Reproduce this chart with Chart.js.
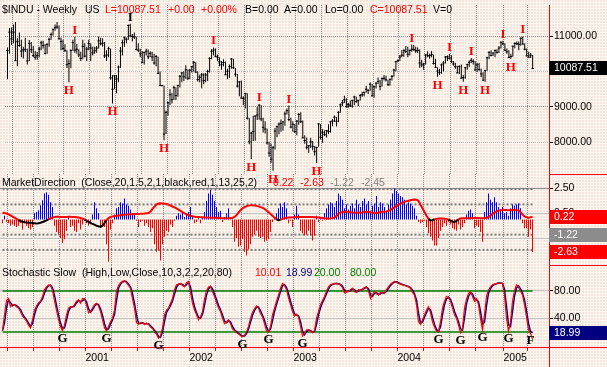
<!DOCTYPE html>
<html>
<head>
<meta charset="utf-8">
<title>$INDU Weekly</title>
<script src="https://cdn.jsdelivr.net/npm/chart.js@4.4.1/dist/chart.umd.min.js"></script>
<style>
  html, body { margin: 0; padding: 0; }
  body {
    width: 607px; height: 367px; overflow: hidden; position: relative;
    background-color: #fcf7ef;
    background-image: radial-gradient(circle at 1px 1px, #eccdc5 0.6px, transparent 0.8px);
    background-size: 3px 3px;
  }
  canvas { position: absolute; left: 0; }
</style>
</head>
<body>
<canvas id="priceChart" width="607" height="186" style="top:0"></canvas>
<canvas id="mdChart" width="607" height="91" style="top:174px"></canvas>
<canvas id="stochChart" width="607" height="102" style="top:265px"></canvas>
<script>
// weekly bars, Mar 2000 - Apr 2005 (one value per week)
const closeVals = [
  10595,11112,10922,11111,10306,10844,10734,10577,10609,10627,
  10300,10794,10615,10449,10405,10448,10636,10812,10733,10511,
  10767,10908,11046,11193,11238,11259,10927,10847,10651,10596,
  10192,10226,10590,10817,10603,10630,10470,10373,10712,10434,
  10635,10787,
  10662,10525,10587,10659,10864,10781,10799,10441,10466,10644,
  9823,9504,9879,9791,10126,10579,10810,10951,10910,11301,
  11005,10990,10977,10623,10604,10502,10253,10539,10577,10416,
  10512,10416,10240,10423,9949,9606,9606,8236,8848,9120,
  9345,9205,9545,9323,9608,9867,9960,9852,10049,9811,
  10036,10137,
  10259,9987,9772,9840,9907,9744,9903,10000,10368,10572,
  10608,10427,10404,10271,10190,10257,9910,10006,10140,10353,
  10105,9925,9589,9706,9253,9243,9380,8684,8019,8264,
  8313,8745,8778,9053,8664,8427,8379,7986,7701,7528,
  7850,8322,8443,8517,8537,8579,8804,8896,8645,8433,
  8512,8304,
  8601,8785,8587,8131,8054,7864,7909,8018,7891,7740,
  7859,8522,8145,8278,8221,8337,8306,8582,8604,8713,
  8601,8850,9062,9118,9201,9011,9070,9036,9189,9284,
  9153,9191,9321,9348,9416,9503,9471,9644,9313,9572,
  9674,9721,9582,9801,9809,9768,9629,9782,9862,10042,
  10278,10305,
  10409,10458,10600,10568,10488,10593,10628,10619,10584,10596,
  10240,10186,10213,10470,10443,10452,10473,10226,10118,10013,
  9967,10188,10242,10410,10417,10371,10283,10214,10140,9962,
  10140,9815,9826,10110,10195,10260,10314,10284,10047,10192,
  10055,9933,9757,10027,10387,10539,10456,10522,10592,10543,
  10661,10828,10783,
  10603,10558,10393,10427,10716,10796,10785,10766,10940,10774,
  10629,10442,10404,10461,10087.51
];
const highVals = [
  10680,11230,11240,11330,11400,10940,11100,10900,10700,10950,
  10640,10890,10830,10720,10580,10550,10700,10870,10870,10780,
  10800,10950,11100,11200,11330,11400,11300,10950,10900,10770,
  10600,10350,10630,10900,10980,10780,10630,10560,10900,10800,
  10700,10900,
  10800,10700,10700,10720,10990,10950,10940,10830,10600,10700,
  10650,9900,9900,9900,10170,10690,10900,10990,10960,11330,
  11350,11060,11100,10980,10800,10640,10580,10560,10640,10620,
  10570,10560,10500,10470,10420,10000,9620,9600,8900,9150,
  9500,9400,9600,9560,9620,9900,9990,10010,10180,10060,
  10080,10150,
  10300,10260,10000,9910,9960,9950,9960,10050,10400,10630,
  10680,10650,10480,10400,10300,10350,10280,10080,10200,10380,
  10360,10100,9930,9730,9750,9300,9400,9390,8700,8300,
  8750,8760,9000,9080,9050,8700,8600,8390,8020,7960,
  7900,8410,8480,8560,8650,8600,8870,8960,9040,8700,
  8600,8520,
  8630,8830,8850,8620,8200,8140,7930,8130,8040,7900,
  7880,8540,8520,8380,8340,8350,8510,8600,8660,8760,
  8720,8880,9100,9200,9320,9250,9110,9180,9200,9320,
  9290,9200,9370,9430,9420,9600,9500,9690,9650,9600,
  9690,9830,9760,9830,9900,9880,9760,9800,9900,10080,
  10300,10340,
  10470,10600,10620,10720,10700,10620,10760,10750,10700,10680,
  10620,10330,10250,10490,10570,10500,10580,10480,10360,10120,
  10080,10230,10300,10440,10450,10500,10460,10300,10250,10160,
  10180,10200,9900,10130,10220,10320,10380,10350,10290,10250,
  10240,10080,9980,10050,10420,10570,10600,10540,10620,10630,
  10720,10850,10870,
  10800,10650,10600,10500,10730,10820,10850,10850,10960,10990,
  10800,10650,10560,10520,10470
];
const lowVals = [
  9780,10500,10750,10800,10300,10150,10700,10400,10370,10550,
  10200,10300,10520,10400,10330,10330,10400,10600,10650,10480,
  10500,10700,10900,11020,11150,11200,10900,10600,10600,10550,
  10100,9700,10090,10590,10530,10500,10400,10300,10350,10400,
  10300,10600,
  10300,10450,10500,10530,10650,10740,10700,10380,10300,10400,
  9770,9100,9500,9390,9700,10100,10450,10700,10800,10900,
  10980,10850,10920,10600,10550,10400,10240,10200,10450,10350,
  10400,10300,10200,10150,9930,9590,9580,8060,8240,8750,
  9050,9100,9200,9200,9290,9550,9700,9730,9800,9760,
  9780,9970,
  10000,9960,9720,9700,9530,9640,9700,9730,9970,10350,
  10450,10400,10300,10150,10050,10150,9900,9780,9820,10080,
  10080,9850,9550,9300,9230,9050,8960,8650,7950,7530,
  8040,8050,8630,8640,8600,8280,8250,7940,7600,7420,
  7200,7800,8150,8230,8300,8340,8470,8790,8600,8400,
  8300,8270,
  8200,8500,8550,8120,7960,7800,7710,7840,7780,7630,
  7420,7880,8080,7990,8180,8140,8230,8280,8460,8580,
  8450,8570,8840,9020,9110,8980,8980,9000,8980,9050,
  9120,9030,9180,9290,9300,9400,9370,9460,9300,9270,
  9520,9650,9470,9580,9750,9720,9590,9600,9750,9850,
  10000,10260,
  10300,10400,10420,10520,10400,10450,10560,10580,10520,10520,
  10110,10120,10050,10200,10400,10360,10400,10200,10100,9850,
  9900,9940,10000,10230,10300,10340,10240,10160,10080,9950,
  9930,9800,9710,9800,10050,10130,10240,10200,10020,9990,
  10020,9840,9740,9710,10020,10350,10430,10440,10400,10500,
  10520,10650,10750,
  10580,10500,10380,10360,10420,10660,10750,10600,10730,10760,
  10600,10430,10400,10380,10070
];

// MarketDirection histogram and its line
const histVals = [
  -0.3,0.3,-0.2,-0.3,-0.5,-0.4,-0.5,-0.6,-0.5,-0.3,
  -0.8,-0.3,-0.5,-0.7,-0.8,-0.6,0.5,0.6,0.75,1.15,
  1.55,2.1,2.2,2.0,1.4,1.0,-0.5,-1.0,-1.2,-1.5,
  -1.9,-1.6,-0.9,0.2,-0.6,-0.5,-0.9,-1.0,-0.3,-0.8,
  -0.4,-0.1,-0.3,-0.5,-0.2,0.4,1.4,0.9,0.5,-0.6,
  -0.4,-0.6,-2.0,-3.4,-0.8,-0.3,0.4,0.9,1.0,1.4,
  1.3,1.7,1.2,1.1,0.8,0.5,0.4,-0.1,-0.6,-0.2,
  -0.1,-0.5,-0.3,-0.6,-1.0,-0.7,-2.0,-2.6,-2.5,-3.3,
  -2.0,-1.4,-0.9,-1.0,-0.4,-0.6,-0.1,0.3,0.5,0.4,
  0.6,0.2,0.5,0.6,1.0,0.3,-0.3,-0.2,0.1,-0.3,
  0.2,0.6,1.5,2.1,2.4,2.0,1.5,1.0,0.6,0.7,
  -0.2,0.2,0.5,0.9,0.2,-0.6,-1.8,-1.5,-2.2,-2.1,
  -1.6,-2.6,-2.9,-2.4,-2.0,-1.4,-1.2,-0.9,-1.4,-1.5,
  -1.4,-1.8,-1.7,-1.6,-1.0,-0.2,0.2,0.5,0.9,1.3,
  1.0,1.4,0.9,-0.3,-0.1,-0.6,0.4,1.1,0.4,-0.9,
  -1.1,-1.3,-1.2,-0.9,-1.3,-1.7,-1.3,0.3,-0.2,0.1,
  -0.1,0.5,0.9,1.2,1.4,1.3,1.0,1.5,2.1,1.9,
  1.6,0.9,1.2,0.8,1.1,1.3,0.9,1.6,1.2,1.0,
  1.5,1.7,1.2,1.5,0.7,1.1,1.3,1.9,1.0,1.4,
  1.3,1.0,0.6,1.2,1.6,2.1,2.5,2.3,2.1,1.9,
  1.8,1.6,1.2,1.4,1.3,1.1,0.9,0.3,-0.2,-0.3,
  -0.2,-0.1,-0.6,-1.1,-1.4,-1.7,-2.1,-2.1,-1.5,-0.9,
  -0.6,-0.3,-0.5,-0.2,-0.4,-0.7,-0.8,-0.9,-0.4,-0.8,
  -0.6,-0.3,0.4,0.7,0.8,0.5,-0.7,-0.5,-0.6,-1.0,
  -1.8,0.6,1.4,2.1,1.6,1.4,1.8,1.4,1.0,0.8,
  1.0,0.5,0.6,0.3,0.9,1.2,1.1,1.2,1.3,0.9,
  -0.3,-0.7,-0.7,-1.4,-0.8,-2.63
];
const signalVals = [
  0.55,0.52,0.48,0.42,0.33,0.24,0.15,0.06,-0.04,-0.12,
  -0.18,-0.22,-0.24,-0.26,-0.27,-0.28,-0.30,-0.32,-0.30,-0.26,
  -0.20,-0.14,-0.07,0.02,0.10,0.16,0.20,0.22,0.22,0.21,
  0.20,0.20,0.21,0.22,0.22,0.21,0.20,0.18,0.16,0.12,
  0.07,0.00,-0.10,-0.20,-0.28,-0.35,-0.42,-0.50,-0.55,-0.60,
  -0.50,-0.30,-0.05,0.12,0.20,0.25,0.28,0.30,0.32,0.34,
  0.36,0.38,0.40,0.41,0.42,0.43,0.44,0.44,0.45,0.46,
  0.47,0.48,0.50,0.52,0.65,0.85,1.05,1.20,1.30,1.32,
  1.30,1.28,1.25,1.20,1.12,1.05,0.98,0.90,0.80,0.70,
  0.60,0.50,0.42,0.35,0.30,0.26,0.23,0.21,0.20,0.19,
  0.18,0.17,0.17,0.16,0.15,0.15,0.14,0.13,0.12,0.12,
  0.11,0.10,0.10,0.10,0.10,0.12,0.20,0.35,0.55,0.75,
  0.90,1.00,1.08,1.12,1.15,1.15,1.13,1.10,1.06,1.00,
  0.95,0.85,0.72,0.60,0.45,0.30,0.15,0.02,-0.05,-0.03,
  0.05,0.10,0.14,0.16,0.17,0.18,0.18,0.20,0.20,0.20,
  0.20,0.20,0.20,0.20,0.20,0.20,0.19,0.18,0.16,0.14,
  0.12,0.10,0.09,0.09,0.10,0.12,0.15,0.30,0.45,0.55,
  0.60,0.62,0.62,0.60,0.58,0.56,0.55,0.55,0.56,0.57,
  0.58,0.60,0.60,0.60,0.58,0.55,0.52,0.50,0.55,0.60,
  0.62,0.62,0.65,0.70,0.78,0.88,1.00,1.10,1.20,1.28,
  1.35,1.42,1.48,1.52,1.56,1.60,1.62,1.60,1.50,1.20,
  0.90,0.60,0.30,0.05,-0.08,-0.05,0.02,0.05,0.08,0.08,
  0.08,0.07,0.05,0.00,-0.10,-0.18,-0.20,-0.12,0.02,0.08,
  0.10,0.10,0.10,0.11,0.11,0.12,0.12,0.12,0.12,0.11,
  0.11,0.12,0.12,0.20,0.32,0.45,0.56,0.65,0.72,0.75,
  0.75,0.76,0.76,0.75,0.75,0.76,0.76,0.75,0.75,0.60,
  0.40,0.25,0.18,0.15,0.18,0.22
];
const bandLevels = [2.45, 1.22, -1.22, -2.45];

// Stochastic Slow %K (red) and %D (navy)
const stochK = [
  22,45,66,69,57,60,60,57,55,50,
  43,40,36,30,26,38,52,58,63,65,
  72,82,86,89,88,81,66,52,38,28,
  22,30,45,55,57,56,60,65,67,62,
  69,68,60,48,50,55,60,62,58,50,
  38,26,21,28,35,40,52,80,88,92,
  94,95,92,88,84,68,55,34,31,34,
  33,31,33,31,27,25,20,17,11,14,
  26,45,52,55,62,69,82,89,90,91,
  88,86,92,94,78,62,52,45,38,42,
  50,68,80,86,87,79,72,63,55,50,
  40,32,35,38,32,24,22,19,17,15,
  13,15,20,28,40,49,54,58,55,47,
  42,32,22,20,28,45,55,65,74,84,
  91,88,82,70,60,50,43,46,42,28,
  14,18,23,23,21,19,22,40,50,60,
  66,72,80,86,89,90,91,91,90,89,
  85,77,80,79,82,84,79,78,82,81,
  83,85,86,80,69,75,79,76,74,78,
  77,77,82,86,90,92,94,93,91,90,
  89,88,87,86,84,78,74,60,35,31,
  38,45,52,57,48,35,27,21,20,35,
  55,65,72,70,65,55,45,40,30,19,
  26,55,68,76,79,72,65,69,60,40,
  23,45,72,81,86,89,90,91,92,91,
  91,74,40,21,35,65,80,89,86,80,
  74,60,42,23,18,10.01
];
const stochD = [
  22,33.5,55.5,67.5,63,58.5,60,58.5,56,52.5,
  46.5,41.5,38,33,28,32,45,55,60.5,64,
  68.5,77,84,87.5,88.5,84.5,73.5,59,45,33,
  25,26,37.5,50,56,56.5,58,62.5,66,64.5,
  65.5,68.5,64,54,49,52.5,57.5,61,60,54,
  44,32,23.5,24.5,31.5,37.5,46,66,84,90,
  93,94.5,93.5,90,86,76,61.5,44.5,32.5,32.5,
  33.5,32,32,32,29,26,22.5,18.5,14,12.5,
  20,35.5,48.5,53.5,58.5,65.5,75.5,85.5,89.5,90.5,
  89.5,87,89,93,86,70,57,48.5,41.5,40,
  46,59,74,83,86.5,83,75.5,67.5,59,52.5,
  45,36,33.5,36.5,35,28,23,20.5,18,16,
  14,14,17.5,24,34,44.5,51.5,56,56.5,51,
  44.5,37,27,21,24,36.5,50,60,69.5,79,
  87.5,89.5,85,76,65,55,46.5,44.5,44,35,
  21,16,20.5,23,22,20,20.5,31,45,55,
  63,69,76,83,87.5,89.5,90.5,91,90.5,89.5,
  87,81,78.5,79.5,80.5,83,81.5,78.5,80,81.5,
  82,84,85.5,83,74.5,72,77,77.5,75,76,
  77.5,77,79.5,84,88,91,93,93.5,92,90.5,
  89.5,88.5,87.5,86.5,85,81,76,67,47.5,33,
  34.5,41.5,48.5,54.5,52.5,41.5,31,24,20.5,27.5,
  45,60,68.5,71,67.5,60,50,42.5,35,24.5,
  22.5,40.5,61.5,72,77.5,75.5,68.5,67,64.5,50,
  31.5,34,58.5,76.5,83.5,87.5,89.5,90.5,91.5,91.5,
  91,82.5,57,30.5,28,50,72.5,84.5,87.5,83,
  77,67,51,32.5,20.5,18.99
];
const stochLevels = [20, 80];

// axis ticks: first week of each quarter, year labels on January
const quarterStarts = [3, 16, 29, 42, 55, 68, 81, 94, 107, 120, 133, 146, 159, 172, 185, 198, 211, 224, 237, 251, 263];
const yearStarts = [42, 94, 146, 198, 251];
const yearNames = ['2001', '2002', '2003', '2004', '2005'];
const priceTicks = [8000, 9000, 10000, 11000];
const mdTicks = [-1.5, 0.5, 2.5];
const stochTicks = [40, 80];

// hand-drawn marks (week indices)
const peakMarks = [34, 62, 104, 127, 142, 204, 223, 234, 250, 260];
const blackPeak = 62;
const troughMarks = [31, 53, 79, 123, 134, 156, 217, 230, 241, 254];
const stochMarks = [30, 52, 78, 120, 133, 150, 218, 229, 240, 253];
const stochEndMark = 264;

const RED = '#ff0000', BLUE = '#0000ff', NAVY = '#000080', GREEN = '#008000', GRAY = '#808080';
const FAMILY = '"Liberation Sans", Arial, sans-serif';
const TEXT_FONT = '10.5px ' + FAMILY;
const MARK_FONT = 'bold 13px "Liberation Serif", "Times New Roman", serif';
const AXIS_W = 58;

const n = closeVals.length;
const idx = closeVals.map((_, i) => i);
const span = [0, n - 1];

function xAxis(withLabels, h) {
  return {
    type: 'linear', min: -1.25, max: 273.25, offset: false, bounds: 'data',
    afterBuildTicks: s => { s.ticks = quarterStarts.map(q => ({ value: q - 0.5 })); },
    grid: { offset: false, color: '#8a8a8a', drawTicks: withLabels, tickLength: 4, tickColor: RED },
    border: { display: withLabels, color: RED, width: 1, dash: [1, 1] },
    ticks: {
      display: withLabels, autoSkip: false, maxRotation: 0, align: 'start', padding: 1,
      color: '#000', font: { family: FAMILY, size: 10.5 },
      callback: v => { const k = yearStarts.indexOf(v + 0.5); return k < 0 ? '' : yearNames[k]; }
    },
    afterFit: s => { s.height = h; s.paddingLeft = 0; s.paddingRight = 0; }
  };
}

function yAxis(min, max, tickVals, gridColor, dash) {
  return {
    position: 'right', min, max, beginAtZero: false, bounds: 'data',
    afterBuildTicks: s => { s.ticks = tickVals.map(v => ({ value: v })); },
    grid: { color: gridColor, drawTicks: true, tickLength: 4, tickColor: '#000' },
    border: { color: RED, width: 1, dash: dash },
    ticks: { color: '#000', padding: 1, font: { family: FAMILY, size: 10.5 }, callback: v => Number(v).toFixed(2) },
    afterFit: s => { s.width = AXIS_W; s.paddingTop = 0; s.paddingBottom = 0; }
  };
}

const common = {
  responsive: false, animation: false, events: [],
  layout: { padding: 0 },
  plugins: { legend: { display: false }, tooltip: { enabled: false } }
};

function drawTexts(ctx, items, y) {
  ctx.save();
  ctx.font = TEXT_FONT; ctx.textAlign = 'left'; ctx.textBaseline = 'alphabetic';
  items.forEach(t => { ctx.fillStyle = t[2]; ctx.fillText(t[0], t[1], y); });
  ctx.restore();
}

function valueBox(chart, value, label, bg) {
  const { ctx, chartArea, scales } = chart;
  const yc = Math.round(scales.y.getPixelForValue(value));
  ctx.save();
  ctx.fillStyle = bg;
  ctx.fillRect(chartArea.right, yc - 7, chart.width - chartArea.right, 14);
  ctx.fillStyle = '#fff'; ctx.font = TEXT_FONT; ctx.textBaseline = 'middle';
  ctx.fillText(label, chartArea.right + 5, yc + 0.5);
  ctx.restore();
}

function redRule(chart, y) {
  const { ctx, chartArea } = chart;
  ctx.save();
  ctx.fillStyle = RED;
  ctx.fillRect(chartArea.right, y, chart.width - chartArea.right, 1);
  ctx.restore();
}

// 1. Price bars
const lastClose = closeVals[n - 1];
new Chart(document.getElementById('priceChart'), {
  type: 'bar',
  data: {
    datasets: [
      { data: idx.map(i => ({ x: i, y: [lowVals[i], highVals[i]] })), backgroundColor: '#000',
        barThickness: 1, inflateAmount: 0, order: 2 },
      { type: 'line', data: idx.map(i => ({ x: i, y: closeVals[i] })), showLine: false,
        pointStyle: 'line', pointRadius: 1.2, pointBorderWidth: 1, pointBorderColor: '#000', order: 1 }
    ]
  },
  options: Object.assign({}, common, {
    scales: {
      x: xAxis(false, 12),
      y: yAxis(7110, 11877, priceTicks, c => (c.tick && c.tick.value % 2000 === 0) ? '#c2c2c2' : '#8a8a8a', [1, 1])
    }
  }),
  plugins: [{
    id: 'priceOverlay',
    afterDraw(chart) {
      const { ctx, scales: { x, y } } = chart;
      drawTexts(ctx, [
        ['$INDU - Weekly', 2, '#000'], ['US', 85, '#000'], ['L=' + lastClose.toFixed(2), 105, RED],
        ['+0.00', 168, RED], ['+0.00%', 201, RED], ['B=0.00', 245, '#000'], ['A=0.00', 284, '#000'],
        ['Lo=0.00', 325, '#000'], ['C=' + lastClose.toFixed(2), 370, RED], ['V=0', 433, '#000']
      ], 13);
      ctx.save();
      ctx.font = MARK_FONT; ctx.textAlign = 'center'; ctx.textBaseline = 'alphabetic';
      peakMarks.forEach(i => {
        ctx.fillStyle = i === blackPeak ? '#000' : RED;
        ctx.fillText('I', x.getPixelForValue(i), y.getPixelForValue(highVals[i]) - 3);
      });
      ctx.fillStyle = RED;
      troughMarks.forEach(i => ctx.fillText('H', x.getPixelForValue(i), y.getPixelForValue(lowVals[i]) + 12));
      ctx.restore();
      valueBox(chart, lastClose, lastClose.toFixed(2), '#000');
    }
  }]
});

// 2. MarketDirection panel
const lastHist = histVals[n - 1];
const lastSignal = signalVals[n - 1];
const bandSets = bandLevels.map(v => ({
  type: 'line', data: span.map(i => ({ x: i, y: v })), borderColor: '#7a7a7a', borderWidth: 2,
  borderDash: [2, 2], pointRadius: 0, order: 3
}));
new Chart(document.getElementById('mdChart'), {
  type: 'bar',
  data: {
    datasets: [
      { data: idx.map(i => ({ x: i, y: histVals[i] })), backgroundColor: c => (c.raw && c.raw.y >= 0) ? BLUE : RED,
        barThickness: 1, inflateAmount: 0, order: 2 },
      { type: 'line', data: idx.map(i => ({ x: i, y: signalVals[i] })), borderColor: RED, borderWidth: 2,
        pointRadius: 0, order: 1,
        segment: { borderColor: c => (c.p0.parsed.y + c.p1.parsed.y) / 2 < 0 ? '#000' : RED } }
    ].concat(bandSets)
  },
  options: Object.assign({}, common, {
    scales: {
      x: xAxis(false, 0),
      y: yAxis(-3.67, 3.67, mdTicks, c => (c.tick && c.tick.value === 2.5) ? '#8a8a8a' : '#c2c2c2', [])
    }
  }),
  plugins: [{
    id: 'mdOverlay',
    afterDraw(chart) {
      drawTexts(chart.ctx, [
        ['MarketDirection  (Close,20,1.5,2,1,black,red,1,13,25,2)', 2, '#000'],
        [lastSignal.toFixed(2), 273, RED], [lastHist.toFixed(2), 300, RED],
        [bandLevels[2].toFixed(2), 330, GRAY], [bandLevels[3].toFixed(2), 361, GRAY]
      ], 12);
      valueBox(chart, lastSignal, lastSignal.toFixed(2), RED);
      valueBox(chart, bandLevels[2], bandLevels[2].toFixed(2), '#8c8c8c');
      valueBox(chart, lastHist, lastHist.toFixed(2), RED);
      redRule(chart, 0);
    }
  }]
});

// 3. Stochastic Slow panel
const lastK = stochK[n - 1];
const lastD = stochD[n - 1];
const levelSets = stochLevels.map(v => ({
  type: 'line', data: span.map(i => ({ x: i, y: v })), borderColor: GREEN, borderWidth: 1.5, pointRadius: 0, order: 3
}));
new Chart(document.getElementById('stochChart'), {
  type: 'line',
  data: {
    datasets: [
      { data: idx.map(i => ({ x: i, y: stochK[i] })), borderColor: RED, borderWidth: 1.2, pointRadius: 0, order: 1 },
      { data: idx.map(i => ({ x: i, y: stochD[i] })), borderColor: NAVY, borderWidth: 1.5, pointRadius: 0, order: 2 }
    ].concat(levelSets)
  },
  options: Object.assign({}, common, {
    scales: {
      x: xAxis(true, 20),
      y: yAxis(-2, 118, stochTicks, '#c2c2c2', [])
    }
  }),
  plugins: [{
    id: 'stochOverlay',
    afterDraw(chart) {
      const { ctx, chartArea, scales: { x, y } } = chart;
      drawTexts(ctx, [
        ['Stochastic Slow  (High,Low,Close,10,3,2,2,20,80)', 2, '#000'],
        [lastK.toFixed(2), 255, RED], [lastD.toFixed(2), 286, NAVY],
        [stochLevels[0].toFixed(2), 314, GREEN], [stochLevels[1].toFixed(2), 350, GREEN]
      ], 11);
      ctx.save();
      ctx.font = MARK_FONT; ctx.textAlign = 'center'; ctx.fillStyle = '#000';
      stochMarks.forEach(i => ctx.fillText('G', x.getPixelForValue(i), y.getPixelForValue(stochK[i]) + 11));
      ctx.fillText('F', x.getPixelForValue(stochEndMark), y.getPixelForValue(stochK[stochEndMark]) + 11);
      ctx.restore();
      valueBox(chart, lastD, lastD.toFixed(2), NAVY);
      redRule(chart, 0);
      redRule(chart, chartArea.bottom);
      ctx.save();
      ctx.fillStyle = RED;
      ctx.fillRect(chartArea.right, chartArea.bottom, 1, chart.height - chartArea.bottom);
      ctx.restore();
    }
  }]
});
</script>
</body>
</html>
